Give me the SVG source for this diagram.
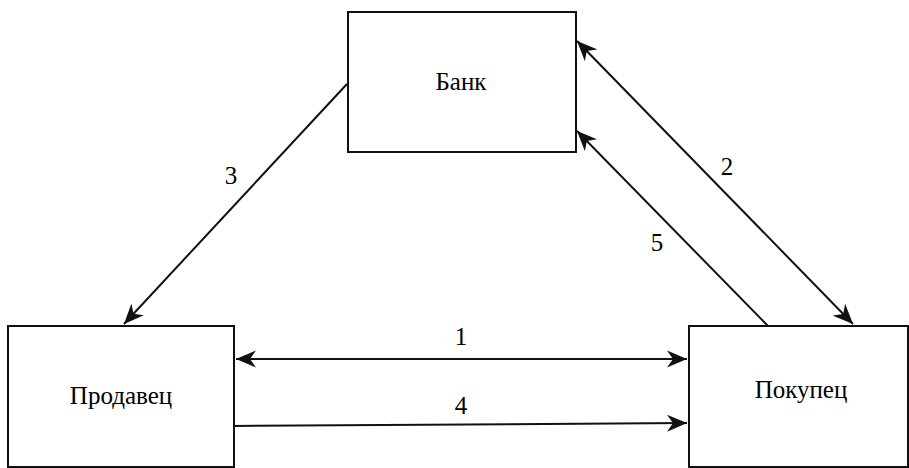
<svg xmlns="http://www.w3.org/2000/svg" width="909" height="468" viewBox="0 0 909 468">
  <style>
    .box { fill: #ffffff; stroke: #111111; stroke-width: 2; }
    .lbl { font-family: "Liberation Serif", "Times New Roman", serif; font-size: 25px; fill: #000000; text-anchor: middle; }
    .edge { fill: none; stroke: #111111; stroke-width: 2; }
  </style>
  <defs>
    <!-- filled arrowhead with a notched back, tip at the line end -->
    <marker id="head" viewBox="-20 -9 21 18" refX="0" refY="0" markerWidth="21" markerHeight="18" markerUnits="userSpaceOnUse" orient="auto-start-reverse">
      <path d="M0,0 L-20,-8.5 L-14,0 L-20,8.5 Z" fill="#111111"/>
    </marker>
  </defs>
  <rect width="909" height="468" fill="#ffffff"/>

  <g id="bank">
    <rect class="box" x="348" y="12" width="228" height="140"/>
    <text class="lbl" x="461" y="90">Банк</text>
  </g>
  <g id="seller">
    <rect class="box" x="8" y="326" width="226" height="141"/>
    <text class="lbl" x="121" y="404">Продавец</text>
  </g>
  <g id="buyer">
    <rect class="box" x="689" y="326" width="219" height="141"/>
    <text class="lbl" x="801" y="398">Покупец</text>
  </g>

  <g id="connectors">
    <line class="edge" x1="236" y1="359" x2="687" y2="359" marker-start="url(#head)" marker-end="url(#head)"/>
    <line class="edge" x1="234" y1="426" x2="687" y2="423" marker-end="url(#head)"/>
    <line class="edge" x1="347" y1="84" x2="124" y2="324" marker-end="url(#head)"/>
    <line class="edge" x1="577" y1="41" x2="853" y2="324" marker-start="url(#head)" marker-end="url(#head)"/>
    <line class="edge" x1="768" y1="326" x2="577" y2="131" marker-end="url(#head)"/>
    <text class="lbl" x="461" y="345">1</text>
    <text class="lbl" x="461" y="414">4</text>
    <text class="lbl" x="231" y="184">3</text>
    <text class="lbl" x="727" y="175">2</text>
    <text class="lbl" x="657" y="251">5</text>
  </g>
</svg>
